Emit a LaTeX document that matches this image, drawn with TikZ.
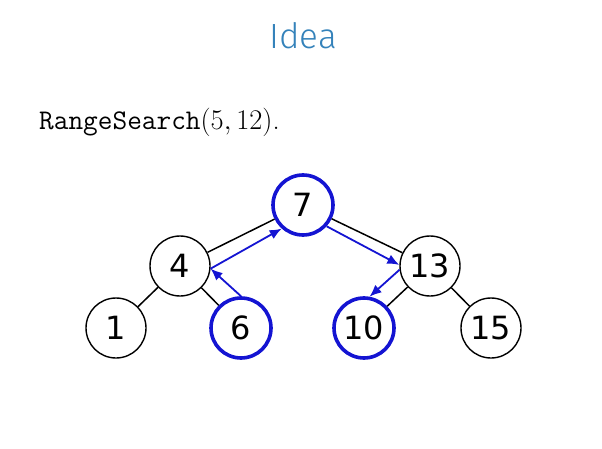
\RequirePackage{fix-cm}
\documentclass[tikz,border=0pt]{standalone}
\usepackage{amsmath}
\usepackage{fontspec}
\usepackage{tikz}
\usetikzlibrary{arrows.meta}
\newfontfamily\titlefont{Fira Sans Light}
\newfontfamily\keyfont{DejaVu Sans}
\definecolor{titleblue}{RGB}{52,130,186}
\definecolor{pathblue}{RGB}{20,20,210}

\begin{document}
\begin{tikzpicture}[x=1pt,y=-1pt,
    key/.style={draw,circle,line width=1.4pt,minimum size=60pt,inner sep=0pt,
      font=\keyfont\fontsize{32}{38}\selectfont},
    visited/.style={key,draw=pathblue,line width=3.6pt},
    edge/.style={line width=1.5pt},
    walk/.style={draw=pathblue,line width=1.8pt,-{Latex[length=12pt,width=10pt]}}]
          \useasboundingbox (0,0) rectangle (602,449);
          \node[anchor=base,text=titleblue] (title) at (303,49) {\titlefont\fontsize{35}{42}\selectfont Idea};
          \node[anchor=base west,inner sep=0pt] (call) at (39,130)
            {\fontsize{28.5}{34}\selectfont\texttt{RangeSearch}$(5,12)$.};
          % keys of the tree
          \node[visited] (n7) at (303,205) {7};
          \node[key] (n4) at (180,266) {4};
          \node[key] (n13) at (430,266) {13};
          \node[key] (n1) at (116,328) {1};
          \node[visited] (n6) at (241,328) {6};
          \node[visited] (n10) at (364,328) {10};
          \node[key] (n15) at (491,328) {15};
          % edges
          \draw[edge] (n7) -- (n4);
          \draw[edge] (n7) -- (n13);
          \draw[edge] (n4) -- (n1);
          \draw[edge] (n4) -- (n6);
          \draw[edge] (n13) -- (n10);
          \draw[edge] (n13) -- (n15);
          % search walk
          \draw[walk] (n6.90) -- (n4.-5);
          \draw[walk] (n4.-5) -- (n7.228);
          \draw[walk] (n7.-42) -- (n13.178);
          \draw[walk] (n13.187) -- (n10.80);
        \end{tikzpicture}
\end{document}
